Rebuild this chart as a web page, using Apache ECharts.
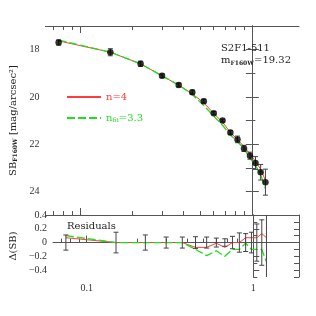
<!DOCTYPE html>
<html><head><meta charset="utf-8">
<script src="https://cdn.jsdelivr.net/npm/echarts@6/dist/echarts.min.js"></script>
<style>html,body{margin:0;padding:0;background:#fff}#c{width:316px;height:316px}</style>
</head><body><div id="c"></div>
<script>
// ---- data ----
const radius = [0.075, 0.15, 0.225, 0.3, 0.375, 0.45, 0.525, 0.6, 0.675, 0.75, 0.825, 0.9, 0.975, 1.05, 1.125, 1.2];
const sbObs = [17.70, 18.11, 18.60, 19.11, 19.50, 19.80, 20.18, 20.69, 21.00, 21.51, 21.80, 22.18, 22.49, 22.80, 23.19, 23.61];
const sbErr = [0.11, 0.15, 0.11, 0.08, 0.08, 0.085, 0.08, 0.065, 0.055, 0.09, 0.14, 0.13, 0.15, 0.27, 0.33, 0.55];
const sbModelN4 = [17.63, 18.11, 18.60, 19.11, 19.50, 19.87, 20.25, 20.70, 21.07, 21.51, 21.80, 22.11, 22.42, 22.73, 23.06, 23.54];
const sbModelFit = [17.60, 18.11, 18.60, 19.11, 19.50, 19.90, 20.37, 20.81, 21.20, 21.61, 21.90, 22.19, 22.59, 22.90, 23.29, 23.89];
const resN4 = [0.07, 0.0, 0.0, 0.0, 0.0, -0.07, -0.07, -0.01, -0.07, 0.0, 0.0, 0.07, 0.07, 0.07, 0.13, 0.07];
const resFit = [0.10, 0.0, 0.0, 0.0, 0.0, -0.10, -0.19, -0.12, -0.20, -0.10, -0.10, -0.01, -0.10, -0.10, -0.10, -0.28];
const xMajorTicks = [0.1, 1];
const xMajorLabels = ['0.1', '1'];
const xMinorTicks = [0.07, 0.08, 0.09, 0.2, 0.3, 0.4, 0.5, 0.6, 0.7, 0.8, 0.9];
const sbMajorTicks = [18, 20, 22, 24];
const sbMinorTicks = [17, 19, 21, 23, 25];
const sbRightTicks = [17, 18, 19, 20, 21, 22, 23, 24, 25];
const resMajorTicks = [-0.4, -0.2, 0, 0.2, 0.4];
const resLabels = ['\u22120.4', '\u22120.2', '0', '0.2', '0.4'];
const resMinorTicks = [-0.5, -0.3, -0.1, 0.1, 0.3];
const resRightTicks = [-0.5, -0.4, -0.3, -0.2, -0.1, 0, 0.1, 0.2, 0.3, 0.4];
const galaxyName = 'S2F1-511';
const magText = 'm{s|F160W}=19.32';

// ---- styling ----
const RED = '#ff3b3b', GREEN = '#1ee01e', AX = '#555', TXT = '#333';
const SERIF = '"DejaVu Serif", serif';
const TICKF = '"Liberation Serif", serif';
const lg = v => Math.log10(v);
const X_MIN = -1.202, X_MAX = 0.2745;
const SB_MIN = 17, SB_MAX = 25, R_MIN = -0.5, R_MAX = 0.4;

function xAxisDef(grid, pos, ticks, len, showLine, labels) {
  return {
    type: 'value', gridIndex: grid, position: pos, min: X_MIN, max: X_MAX,
    axisLine: { show: showLine, lineStyle: { color: AX, width: 1 } },
    axisTick: { show: true, inside: true, length: len, customValues: ticks.map(lg), lineStyle: { color: AX } },
    axisLabel: labels ? {
      show: true, customValues: xMajorTicks.map(lg), margin: 6, color: TXT, fontFamily: TICKF, fontSize: 10,
      formatter: v => { const i = xMajorTicks.findIndex(t => Math.abs(lg(t) - v) < 1e-6); return i >= 0 ? xMajorLabels[i] : ''; }
    } : { show: false },
    splitLine: { show: false }
  };
}
function yAxisDef(grid, pos, min, max, inverse, ticks, len, labels, fmt, extra) {
  return Object.assign({
    type: 'value', gridIndex: grid, position: pos, min: min, max: max, inverse: inverse,
    axisLine: { show: true, lineStyle: { color: AX, width: 1 } },
    axisTick: { show: true, inside: true, length: len, customValues: ticks, lineStyle: { color: AX } },
    axisLabel: labels ? { show: true, customValues: labels, margin: 6, color: TXT, fontFamily: TICKF, fontSize: 10, formatter: fmt } : { show: false },
    splitLine: { show: false }
  }, extra || {});
}
function errRender(yMin, yMax) {
  return function (params, api) {
    const x = api.value(0), y = api.value(1), e = api.value(2);
    const hi = y + e, lo = y - e;
    const hiC = Math.min(hi, yMax), loC = Math.max(lo, yMin);
    const p1 = api.coord([x, hiC]), p2 = api.coord([x, loC]);
    const st = { stroke: '#444', lineWidth: 1 };
    const ch = [{ type: 'line', shape: { x1: p1[0], y1: p1[1], x2: p2[0], y2: p2[1] }, style: st }];
    if (hi <= yMax) ch.push({ type: 'line', shape: { x1: p1[0] - 2.5, y1: p1[1], x2: p1[0] + 2.5, y2: p1[1] }, style: st });
    if (lo >= yMin) ch.push({ type: 'line', shape: { x1: p2[0] - 2.5, y1: p2[1], x2: p2[0] + 2.5, y2: p2[1] }, style: st });
    return { type: 'group', children: ch };
  };
}

const upObs = radius.map((r, i) => [lg(r), sbObs[i]]);
const upErr = radius.map((r, i) => [lg(r), sbObs[i], sbErr[i]]);
const upN4 = radius.map((r, i) => [lg(r), sbModelN4[i]]);
const upFit = radius.map((r, i) => [lg(r), sbModelFit[i]]);
const loN4 = radius.map((r, i) => [lg(r), resN4[i]]);
const loFit = radius.map((r, i) => [lg(r), resFit[i]]);
const loErr = radius.map((r, i) => [lg(r), 0, sbErr[i]]);

const chart = echarts.init(document.getElementById('c'), null, { renderer: 'canvas' });
chart.setOption({
  animation: false,
  backgroundColor: '#fff',
  title: [
    { text: galaxyName, left: 216, top: 38, textStyle: { fontFamily: SERIF, fontSize: 10, fontWeight: 'normal', color: '#222' } },
    { text: magText, left: 216, top: 50, textStyle: { fontFamily: SERIF, fontSize: 10, fontWeight: 'normal', color: '#222',
        rich: { s: { fontFamily: SERIF, fontSize: 6, fontWeight: 'bold', padding: [5, 0, 0, 0], color: '#222' } } } },
    { text: 'Residuals', left: 62, top: 216, textStyle: { fontFamily: SERIF, fontSize: 10, fontWeight: 'normal', color: '#222' } }
  ],
  legend: {
    orient: 'vertical', left: 61, top: 87, itemWidth: 34, itemHeight: 2, itemGap: 11, itemTextGap: 6,
    itemStyle: { opacity: 0 },
    data: [
      { name: 'n=4', textStyle: { color: RED } },
      { name: 'nfit', textStyle: { color: GREEN } }
    ],
    formatter: n => n === 'nfit' ? 'n{s|fit}=3.3' : 'n=4',
    textStyle: { fontFamily: SERIF, fontSize: 10,
      rich: { s: { fontFamily: SERIF, fontSize: 6, padding: [5, 0, 0, 0], color: GREEN } } }
  },
  grid: [
    { left: 43, top: 26, width: 256, height: 189 },
    { left: 43, top: 215, width: 256, height: 62 }
  ],
  xAxis: [
    xAxisDef(0, 'bottom', xMinorTicks, 4, true, false),
    xAxisDef(0, 'bottom', xMajorTicks, 7, false, false),
    xAxisDef(0, 'top', xMinorTicks, 4, true, false),
    xAxisDef(0, 'top', xMajorTicks, 7, false, false),
    xAxisDef(1, 'bottom', xMinorTicks, 4, true, false),
    xAxisDef(1, 'bottom', xMajorTicks, 7, false, true)
  ],
  yAxis: [
    yAxisDef(0, 'left', SB_MIN, SB_MAX, true, sbMajorTicks, 7, sbMajorTicks, v => String(v), {
      name: 'SB{s|F160W} [mag/arcsec\u00b2]', nameLocation: 'middle', nameGap: 26, nameRotate: 90,
      nameTextStyle: { fontFamily: SERIF, fontSize: 10, color: '#222',
        rich: { s: { fontFamily: SERIF, fontSize: 6, fontWeight: 'bold', padding: [5, 0, 0, 0], color: '#222' } } }
    }),
    yAxisDef(0, 'left', SB_MIN, SB_MAX, true, sbMinorTicks, 3.5, null),
    yAxisDef(0, 'right', SB_MIN, SB_MAX, true, sbRightTicks, 6, null),
    yAxisDef(1, 'left', R_MIN, R_MAX, false, resMajorTicks, 6, resMajorTicks, v => {
      const i = resMajorTicks.findIndex(t => Math.abs(t - v) < 1e-6); return i >= 0 ? resLabels[i] : ''; }, {
      name: '\u0394(SB)', nameLocation: 'middle', nameGap: 25, nameRotate: 90,
      nameTextStyle: { fontFamily: SERIF, fontSize: 10, color: '#222' }
    }),
    yAxisDef(1, 'left', R_MIN, R_MAX, false, resMinorTicks, 4, null),
    yAxisDef(1, 'right', R_MIN, R_MAX, false, resRightTicks, 5, null)
  ],
  series: [
    { name: 'n=4', type: 'line', xAxisIndex: 0, yAxisIndex: 0, data: upN4, symbol: 'none', lineStyle: { color: RED, width: 1 }, itemStyle: { color: RED }, z: 3 },
    { name: 'nfit', type: 'line', xAxisIndex: 0, yAxisIndex: 0, data: upFit, symbol: 'none', lineStyle: { color: GREEN, width: 1.3, type: [8, 3] }, itemStyle: { color: GREEN }, z: 4 },
    { type: 'custom', xAxisIndex: 0, yAxisIndex: 0, data: upErr, renderItem: errRender(SB_MIN, SB_MAX), encode: { x: 0, y: 1 }, z: 5 },
    { type: 'scatter', xAxisIndex: 0, yAxisIndex: 0, data: upObs, symbol: 'circle', symbolSize: 6.5, itemStyle: { color: '#000' }, z: 6 },
    { type: 'line', xAxisIndex: 4, yAxisIndex: 3, data: loN4, symbol: 'none', lineStyle: { color: RED, width: 1 }, z: 3 },
    { type: 'line', xAxisIndex: 4, yAxisIndex: 3, data: loFit, symbol: 'none', lineStyle: { color: GREEN, width: 1.3, type: [8, 3] }, z: 4 },
    { type: 'custom', xAxisIndex: 4, yAxisIndex: 3, data: loErr, renderItem: errRender(R_MIN, R_MAX), encode: { x: 0, y: 1 }, z: 5 }
  ]
});
</script></body></html>
